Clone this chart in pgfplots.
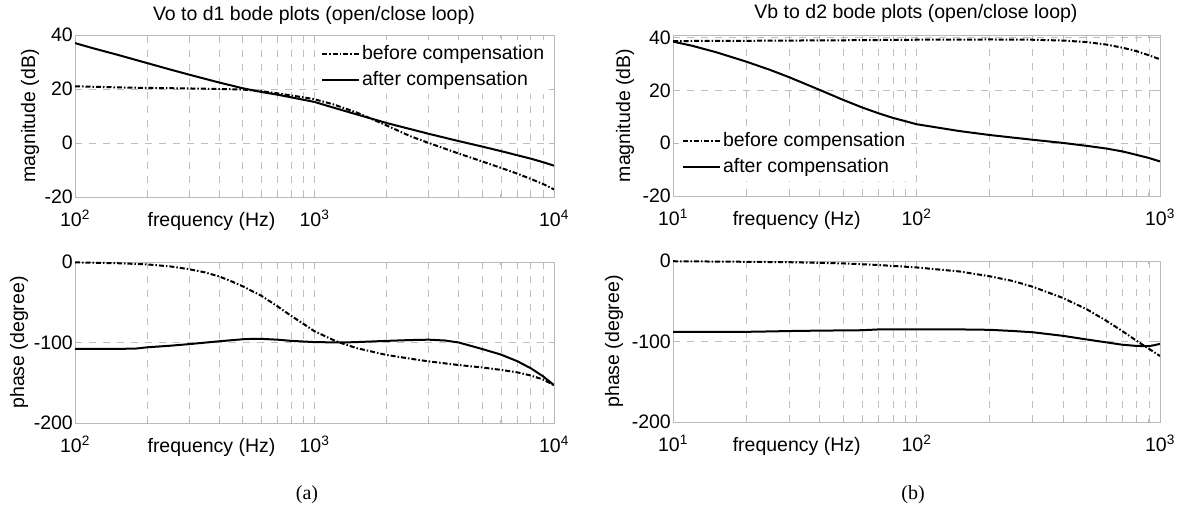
\documentclass[border=0pt]{standalone}
\usepackage{fontspec}
\setmainfont{Liberation Sans}
\newfontfamily\capfont{Liberation Serif}
\usepackage{pgfplots}
\pgfplotsset{compat=1.18}

\pgfplotsset{
  bode/.style={
    scale only axis,
    font=\fontsize{19.5}{23}\selectfont,
    axis line style={draw=gray!55, line width=0.8pt},
    tick style={draw=gray!55, line width=0.8pt},
    tick align=inside,
    major tick length=5pt,
    minor tick length=3pt,
    xmajorgrids=true, xminorgrids=true, ymajorgrids=true,
    grid style={draw=gray!50, line width=0.7pt, dash pattern=on 7pt off 7pt},
    minor grid style={draw=gray!50, line width=0.7pt, dash pattern=on 7pt off 7pt},
    yticklabel style={inner xsep=2pt},
    xticklabel style={anchor=base, yshift=-30pt},
    legend style={draw=none, fill=white, inner sep=3pt,
      nodes={inner sep=2pt, text height=14pt, text depth=4pt, anchor=west},
      row sep=4pt, font=\fontsize{19.5}{23}\selectfont},
    legend cell align=left,
    legend image code/.code={\draw[##1] (0pt,0pt) -- (37pt,0pt);},
    every axis plot/.append style={black, line width=2pt},
  },
  bef/.style={dash pattern=on 5pt off 2pt on 1.5pt off 2pt},
}

\begin{document}
\begin{tikzpicture}[x=1pt,y=1pt]
\useasboundingbox (0,0) rectangle (1181,510);

% ---------- top left ----------
\begin{axis}[xmode=log, bode, at={(75pt,313pt)}, anchor=south west, width=479pt, height=162pt,
  xmin=100, xmax=10000, ymin=-20, ymax=40,
  xtick={100,1000,10000}, xticklabels={10\textsuperscript{2},10\textsuperscript{3},10\textsuperscript{4}},
  ytick={-20,0,20,40}, yticklabels={-20,0,20,40},
  xlabel={frequency (Hz)}, xlabel style={at={(rel axis cs:0.285,0)}, anchor=base, yshift=-30pt},
  ylabel={magnitude (dB)}, ylabel style={at={(rel axis cs:0,0.5)}, anchor=center, yshift=45pt},
  legend style={at={(rel axis cs:0.507,0.97)}, anchor=north west},
]
\addplot[bef, no markers] coordinates {
(100,21.0) (150,20.6) (200,20.4) (300,20.2) (400,20.0) (500,19.8) (600,19.2)
(700,18.4) (800,17.6) (900,16.9) (1000,16.2) (1200,14.3) (1500,11.3) (2000,6.5)
(2500,2.6) (3000,0.0) (4000,-3.9) (5000,-6.8) (6000,-9.2) (7000,-11.3)
(8000,-13.3) (9000,-15.2) (10000,-17.2)};
\addlegendentry{before compensation}
\addplot[no markers] coordinates {
(100,37.0) (120,35.0) (150,32.7) (200,29.6) (250,27.2) (300,25.3) (400,22.4)
(500,20.3) (600,18.9) (700,17.9) (800,16.9) (1000,15.2) (1200,13.1) (1500,10.6)
(2000,7.4) (2500,5.2) (3000,3.4) (4000,0.7) (5000,-1.3) (6000,-3.0) (7000,-4.5)
(8000,-5.8) (9000,-7.1) (10000,-8.4)};
\addlegendentry{after compensation}
\end{axis}

% ---------- bottom left ----------
\begin{axis}[xmode=log, bode, at={(75pt,87pt)}, anchor=south west, width=479pt, height=161pt,
  xmin=100, xmax=10000, ymin=-200, ymax=0,
  xtick={100,1000,10000}, xticklabels={10\textsuperscript{2},10\textsuperscript{3},10\textsuperscript{4}},
  ytick={-200,-100,0}, yticklabels={-200,-100,0},
  xlabel={frequency (Hz)}, xlabel style={at={(rel axis cs:0.285,0)}, anchor=base, yshift=-30pt},
  ylabel={phase (degree)}, ylabel style={at={(rel axis cs:0,0.5)}, anchor=center, yshift=56pt},
]
\addplot[bef, no markers] coordinates {
(100,-0.5) (150,-1.5) (200,-3) (250,-5.5) (300,-9) (350,-13) (400,-18) (450,-24)
(500,-30) (600,-42) (700,-55) (800,-67) (900,-77) (1000,-86) (1200,-97) (1300,-101)
(1500,-107) (2000,-115.5) (2500,-120) (3000,-123.5) (4000,-128) (5000,-131)
(6000,-134) (7000,-137) (8000,-141) (9000,-146) (10000,-153)};
\addplot[no markers] coordinates {
(100,-108) (150,-108) (180,-107.5) (200,-106) (250,-104) (300,-102) (400,-98.5)
(500,-96) (550,-95.5) (600,-95.5) (700,-96.5) (800,-98) (1000,-99.5) (1300,-100)
(1500,-99.5) (2000,-98) (2500,-97) (3000,-96.5) (3500,-97.5) (4000,-100)
(5000,-108) (6000,-115) (7000,-123) (8000,-132) (9000,-142) (10000,-153)};
\end{axis}

% ---------- top right ----------
\begin{axis}[xmode=log, bode, at={(673pt,314pt)}, anchor=south west, width=487pt, height=161pt,
  xmin=10, xmax=1000, ymin=-20, ymax=41,
  xtick={10,100,1000}, xticklabels={10\textsuperscript{1},10\textsuperscript{2},10\textsuperscript{3}},
  ytick={-20,0,20,40}, yticklabels={-20,0,20,40},
  xlabel={frequency (Hz)}, xlabel style={at={(rel axis cs:0.254,0)}, anchor=base, yshift=-30pt},
  ylabel={magnitude (dB)}, ylabel style={at={(rel axis cs:0,0.5)}, anchor=center, yshift=48pt},
  legend style={at={(rel axis cs:0.012,0.4286)}, anchor=north west},
]
\addplot[bef, no markers] coordinates {
(10,38.7) (20,38.8) (50,39.0) (100,39.2) (200,39.3) (300,39.2) (400,38.9)
(500,38.3) (600,37.4) (700,36.2) (800,34.9) (900,33.3) (1000,31.8)};
\addlegendentry{before compensation}
\addplot[no markers] coordinates {
(10,38.5) (12,36.9) (15,34.5) (20,30.9) (25,27.8) (30,25.0) (40,20.2) (50,16.4)
(60,13.5) (70,11.3) (80,9.6) (100,7.2) (150,4.6) (200,3.1) (300,1.3) (400,0.1)
(500,-1.0) (600,-2.0) (700,-3.1) (800,-4.4) (900,-5.6) (1000,-6.9)};
\addlegendentry{after compensation}
\end{axis}

% ---------- bottom right ----------
\begin{axis}[xmode=log, bode, at={(673pt,88pt)}, anchor=south west, width=487pt, height=161pt,
  xmin=10, xmax=1000, ymin=-200, ymax=0,
  xtick={10,100,1000}, xticklabels={10\textsuperscript{1},10\textsuperscript{2},10\textsuperscript{3}},
  ytick={-200,-100,0}, yticklabels={-200,-100,0},
  xlabel={frequency (Hz)}, xlabel style={at={(rel axis cs:0.254,0)}, anchor=base, yshift=-30pt},
  ylabel={phase (degree)}, ylabel style={at={(rel axis cs:0,0.5)}, anchor=center, yshift=59pt},
]
\addplot[bef, no markers] coordinates {
(10,-0.3) (20,-1) (30,-1.5) (50,-3) (70,-5) (100,-8) (150,-13) (200,-19) (250,-25)
(300,-32) (400,-46) (500,-60) (600,-74) (700,-87) (800,-99) (900,-109) (1000,-118)};
\addplot[no markers] coordinates {
(10,-88) (20,-88) (25,-87.5) (30,-87) (40,-86.5) (60,-86) (70,-85) (100,-85)
(150,-85) (200,-85.5) (250,-87) (300,-88.5) (400,-93) (500,-97.5) (600,-101)
(700,-104) (800,-105.5) (900,-105.8) (950,-104.5) (1000,-103)};
\end{axis}

\node[font=\fontsize{19.5}{23}\selectfont] at (314,495) {Vo to d1 bode plots (open/close loop)};
\node[font=\fontsize{19.5}{23}\selectfont] at (916,497) {Vb to d2 bode plots (open/close loop)};
\node[font=\capfont\fontsize{20}{24}\selectfont] at (307,15) {(a)};
\node[font=\capfont\fontsize{20}{24}\selectfont] at (913,15) {(b)};
\end{tikzpicture}
\end{document}
